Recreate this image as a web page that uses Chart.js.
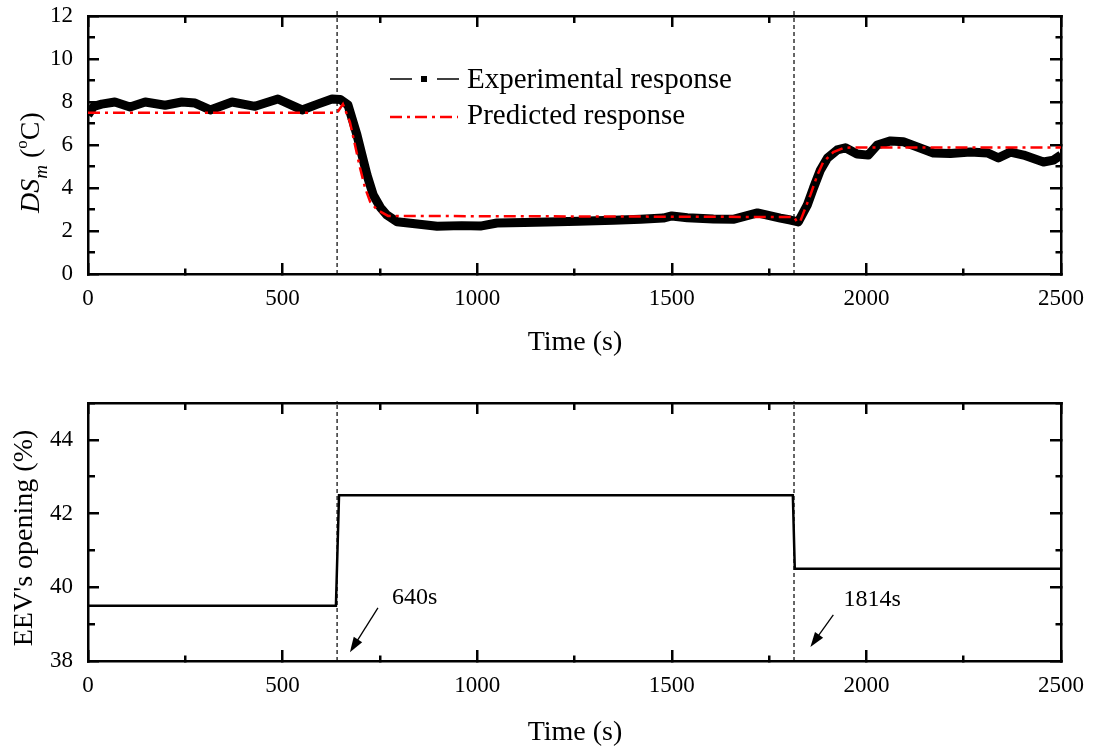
<!DOCTYPE html>
<html>
<head>
<meta charset="utf-8">
<script src="https://cdn.jsdelivr.net/npm/chart.js@4.4.1/dist/chart.umd.min.js"></script>
<style>
  html, body { margin: 0; padding: 0; background: #fff; }
  #wrap { position: relative; width: 1095px; height: 749px; }
  #divChartDSm { position: absolute; left: 0; top: 0; width: 1095px; height: 380px; }
  #divChartEEV { position: absolute; left: 0; top: 380px; width: 1095px; height: 369px; }
</style>
</head>
<body>
<div id="wrap">
  <div id="divChartDSm"><canvas id="chartDSm" width="1095" height="380"></canvas></div>
  <div id="divChartEEV"><canvas id="chartEEV" width="1095" height="369"></canvas></div>
</div>
<script>
// values
var expTime  = [0, 15, 35, 69, 108, 147, 198, 241, 275, 314, 370, 429, 488, 550, 590, 627, 648, 668, 691, 704, 717, 733, 751, 768, 794, 846, 897, 960, 1008, 1051, 1120, 1180, 1260, 1350, 1420, 1478, 1500, 1540, 1607, 1660, 1720, 1779, 1805, 1825, 1848, 1864, 1882, 1900, 1925, 1946, 1976, 2005, 2028, 2062, 2095, 2131, 2172, 2216, 2267, 2311, 2339, 2370, 2404, 2455, 2481, 2500];
var expValue = [7.4, 7.8, 7.9, 8.0, 7.77, 8.0, 7.85, 8.0, 7.95, 7.63, 8.0, 7.8, 8.14, 7.63, 7.9, 8.14, 8.12, 7.86, 6.47, 5.53, 4.6, 3.67, 3.1, 2.74, 2.43, 2.33, 2.22, 2.25, 2.23, 2.37, 2.4, 2.42, 2.45, 2.5, 2.55, 2.6, 2.7, 2.62, 2.56, 2.55, 2.84, 2.6, 2.51, 2.42, 3.2, 4.0, 4.84, 5.4, 5.77, 5.87, 5.58, 5.53, 6.0, 6.19, 6.15, 5.91, 5.63, 5.6, 5.67, 5.63, 5.4, 5.67, 5.53, 5.21, 5.3, 5.53];

var predTime  = [0, 640, 655, 673, 686, 699, 712, 725, 743, 771, 800, 1814, 1822, 1830, 1856, 1874, 1889, 1915, 1941, 1960, 2500];
var predValue = [7.5, 7.5, 7.9, 7.07, 6.0, 4.93, 4.0, 3.35, 2.98, 2.7, 2.7, 2.65, 2.42, 2.45, 3.67, 4.6, 5.2, 5.67, 5.86, 5.88, 5.88];

var eevTime  = [0, 637, 645, 1811, 1816, 2500];
var eevValue = [39.5, 39.5, 42.5, 42.5, 40.5, 40.5];

var stepTimes = [640, 1814];
var stepLabels = ['640s', '1814s'];

var xMajorTicks = [0, 500, 1000, 1500, 2000, 2500];
var yMajorTicksDSm = [0, 2, 4, 6, 8, 10, 12];
var yMajorTicksEEV = [38, 40, 42, 44];

var serif = "'Liberation Serif', 'Times New Roman', serif";
Chart.defaults.font.family = serif;
Chart.defaults.color = '#000';

function toPoints(xs, ys) {
    return xs.map(function(x, i) { return {x: x, y: ys[i]}; });
}

// one side of the box frame, ticks pointing inward
function frameAxis(position, min, max, step, majors, showLabels, size) {
    var innerFirst = (position === 'top' || position === 'left');
    return {
        type: 'linear',
        position: position,
        min: min,
        max: max,
        border: { display: true, color: '#000', width: 2.5 },
        grid: {
            drawOnChartArea: false,
            drawTicks: true,
            tickLength: -11,
            lineWidth: 2.5,
            tickWidth: 2.5,
            color: '#000',
            tickColor: '#000',
            tickBorderDash: function(ctx) {
                if (majors.indexOf(ctx.tick.value) >= 0) return [];
                return innerFirst ? [0, 4, 20, 100] : [7, 100];
            }
        },
        ticks: {
            display: showLabels,
            stepSize: step,
            autoSkip: false,
            maxRotation: 0,
            padding: (position === 'left') ? 26 : 22,
            font: { size: 23, family: serif },
            color: '#000',
            callback: function(v) { return majors.indexOf(v) >= 0 ? String(v) : ''; }
        },
        afterFit: function(scale) {
            if (scale.isHorizontal()) scale.height = size; else scale.width = size;
            // the chart area is set by layout padding alone
            scale.paddingTop = 0;
            scale.paddingBottom = 0;
            scale.paddingLeft = 0;
            scale.paddingRight = 0;
        }
    };
}

function drawVerticalParts(ctx, parts, x, y) {
    ctx.save();
    ctx.translate(x, y);
    ctx.rotate(-Math.PI / 2);
    ctx.textAlign = 'left';
    ctx.textBaseline = 'alphabetic';
    var cx = 0;
    parts.forEach(function(p) {
        ctx.font = p.font;
        ctx.fillText(p.text, cx, p.dy || 0);
        cx += ctx.measureText(p.text).width;
    });
    ctx.restore();
}

function drawArrow(ctx, x1, y1, x2, y2) {
    var ang = Math.atan2(y2 - y1, x2 - x1), len = 15, w = 5;
    ctx.beginPath();
    ctx.moveTo(x1, y1);
    ctx.lineTo(x2 - Math.cos(ang) * len * 0.7, y2 - Math.sin(ang) * len * 0.7);
    ctx.stroke();
    ctx.beginPath();
    ctx.moveTo(x2, y2);
    ctx.lineTo(x2 - len * Math.cos(ang) + w * Math.sin(ang), y2 - len * Math.sin(ang) - w * Math.cos(ang));
    ctx.lineTo(x2 - len * Math.cos(ang) - w * Math.sin(ang), y2 - len * Math.sin(ang) + w * Math.cos(ang));
    ctx.closePath();
    ctx.fill();
}

function stepLineDatasets(yMin, yMax) {
    return stepTimes.map(function(t) {
        return {
            data: [{x: t, y: yMin}, {x: t, y: yMax}],
            borderColor: '#000',
            borderWidth: 1.2,
            borderDash: [4, 3],
            pointRadius: 0,
            clip: false,
            order: 3
        };
    });
}

// top chart: DSm response
var dsmDecor = {
    id: 'dsmDecor',
    afterDraw: function(chart) {
        var ctx = chart.ctx;
        ctx.save();
        ctx.fillStyle = '#000';
        ctx.textAlign = 'center';
        ctx.textBaseline = 'middle';
        ctx.font = '28px ' + serif;
        ctx.fillText('Time (s)', 575, 343);

        drawVerticalParts(ctx, [
            {text: 'DS', font: 'italic 28px ' + serif},
            {text: 'm', font: 'italic 19px ' + serif, dy: 8},
            {text: ' (', font: '28px ' + serif},
            {text: 'o', font: '17px ' + serif, dy: -12},
            {text: 'C)', font: '28px ' + serif}
        ], 39, 213);

        // legend
        ctx.strokeStyle = '#000';
        ctx.lineWidth = 1.3;
        ctx.beginPath();
        ctx.moveTo(390, 79); ctx.lineTo(412, 79);
        ctx.moveTo(437, 79); ctx.lineTo(459, 79);
        ctx.stroke();
        ctx.fillRect(421, 76, 6, 6);
        ctx.strokeStyle = '#ff0000';
        ctx.lineWidth = 2.5;
        ctx.setLineDash([12, 5, 3, 5]);
        ctx.beginPath();
        ctx.moveTo(390, 117); ctx.lineTo(458, 117);
        ctx.stroke();
        ctx.setLineDash([]);
        ctx.textAlign = 'left';
        ctx.textBaseline = 'alphabetic';
        ctx.font = '29px ' + serif;
        ctx.fillText('Experimental response', 467, 88);
        ctx.fillText('Predicted response', 467, 124);
        ctx.restore();
    }
};

new Chart(document.getElementById('chartDSm'), {
    type: 'line',
    data: {
        datasets: [{
            label: 'Predicted response',
            data: toPoints(predTime, predValue),
            borderColor: '#ff0000',
            borderWidth: 2.5,
            borderDash: [12, 5, 3, 5],
            pointRadius: 0,
            order: 1
        }, {
            label: 'Experimental response',
            data: toPoints(expTime, expValue),
            borderColor: '#000',
            borderWidth: 9,
            borderJoinStyle: 'round',
            pointRadius: 0,
            order: 2
        }].concat(stepLineDatasets(0, 12.23))
    },
    options: {
        responsive: false,
        animation: false,
        layout: { padding: { top: 16, right: 34, left: 0, bottom: 0 } },
        plugins: { legend: { display: false }, tooltip: { enabled: false } },
        scales: {
            x: frameAxis('bottom', 0, 2500, 250, xMajorTicks, true, 106),
            xTop: frameAxis('top', 0, 2500, 250, xMajorTicks, false, 0),
            y: frameAxis('left', 0, 12, 1, yMajorTicksDSm, true, 88),
            yRight: frameAxis('right', 0, 12, 1, yMajorTicksDSm, false, 0)
        }
    },
    plugins: [dsmDecor]
});

// bottom chart: EEV opening
var eevDecor = {
    id: 'eevDecor',
    afterDraw: function(chart) {
        var ctx = chart.ctx, xs = chart.scales.x, ys = chart.scales.y;
        ctx.save();
        ctx.fillStyle = '#000';
        ctx.strokeStyle = '#000';
        ctx.textAlign = 'center';
        ctx.textBaseline = 'middle';
        ctx.font = '28px ' + serif;
        ctx.fillText('Time (s)', 575, 353);

        ctx.save();
        ctx.translate(32, 158);
        ctx.rotate(-Math.PI / 2);
        ctx.textBaseline = 'alphabetic';
        ctx.fillText("EEV's opening (%)", 0, 0);
        ctx.restore();

        // arrows pointing at the step instants
        var arrows = [[745, 39.44, 673, 38.24], [1915, 39.25, 1856, 38.38]];
        var labelsAt = [[781, 39.71], [1941, 39.66]];
        ctx.lineWidth = 1.3;
        ctx.font = '24px ' + serif;
        ctx.textAlign = 'left';
        arrows.forEach(function(a, i) {
            drawArrow(ctx, xs.getPixelForValue(a[0]), ys.getPixelForValue(a[1]),
                           xs.getPixelForValue(a[2]), ys.getPixelForValue(a[3]));
            ctx.fillText(stepLabels[i], xs.getPixelForValue(labelsAt[i][0]), ys.getPixelForValue(labelsAt[i][1]));
        });
        ctx.restore();
    }
};

new Chart(document.getElementById('chartEEV'), {
    type: 'line',
    data: {
        datasets: [{
            label: "EEV's opening",
            data: toPoints(eevTime, eevValue),
            borderColor: '#000',
            borderWidth: 2.5,
            pointRadius: 0,
            order: 1
        }].concat(stepLineDatasets(38, 45.05))
    },
    options: {
        responsive: false,
        animation: false,
        layout: { padding: { top: 23, right: 34, left: 0, bottom: 0 } },
        plugins: { legend: { display: false }, tooltip: { enabled: false } },
        scales: {
            x: frameAxis('bottom', 0, 2500, 250, xMajorTicks, true, 88),
            xTop: frameAxis('top', 0, 2500, 250, xMajorTicks, false, 0),
            y: frameAxis('left', 38, 45, 1, yMajorTicksEEV, true, 88),
            yRight: frameAxis('right', 38, 45, 1, yMajorTicksEEV, false, 0)
        }
    },
    plugins: [eevDecor]
});
</script>
</body>
</html>
